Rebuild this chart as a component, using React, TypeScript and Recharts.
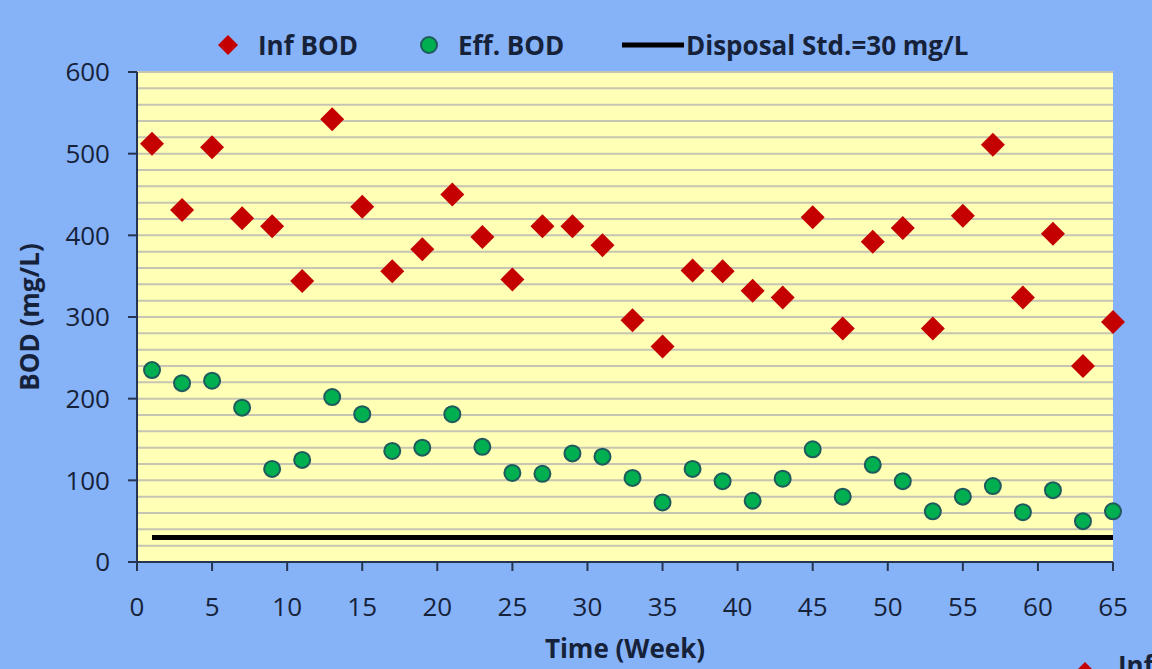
import { ScatterChart, Scatter, XAxis, YAxis, CartesianGrid, Label } from 'recharts';

// weeks sampled (odd weeks 1..65)
const weeks = [1, 3, 5, 7, 9, 11, 13, 15, 17, 19, 21, 23, 25, 27, 29, 31, 33, 35, 37, 39, 41, 43, 45, 47, 49, 51, 53, 55, 57, 59, 61, 63, 65];
const infBod = [512, 431, 508, 421, 411, 344, 542, 435, 356, 383, 450, 398, 346, 411, 411, 388, 296, 264, 357, 356, 332, 324, 422, 286, 392, 409, 286, 424, 511, 324, 402, 240, 294];
const effBod = [235, 219, 222, 189, 114, 125, 202, 181, 136, 140, 181, 141, 109, 108, 133, 129, 103, 73, 114, 99, 75, 102, 138, 80, 119, 99, 62, 80, 93, 61, 88, 50, 62];
const stdWeeks = [1, 65];
const stdValue = 30;

const xTicks = [0, 5, 10, 15, 20, 25, 30, 35, 40, 45, 50, 55, 60, 65];
const yTicks = [0, 100, 200, 300, 400, 500, 600];
const gridValues = Array.from({ length: 31 }, (_, i) => i * 20);

const infData = weeks.map((w, i) => ({ x: w, y: infBod[i] }));
const effData = weeks.map((w, i) => ({ x: w, y: effBod[i] }));
const stdData = stdWeeks.map((w) => ({ x: w, y: stdValue }));

const FONT = '"Open Sans", sans-serif';
const INK = '#16223a';
const AXIS = '#26354f';
const RED = '#c40000';
const GREEN = '#00b050';

const Diamond = (props: any) => {
  const { cx, cy } = props;
  const r = 12;
  return <polygon points={`${cx},${cy - r} ${cx + r},${cy} ${cx},${cy + r} ${cx - r},${cy}`} fill={RED} />;
};

const Dot = (props: any) => {
  const { cx, cy } = props;
  return <circle cx={cx} cy={cy} r={8} fill={GREEN} stroke="#1f5a5c" strokeWidth={2} />;
};

const NoMark = () => <g />;

const legendText = { fontFamily: FONT, fontWeight: 700, fontSize: 26, color: INK, lineHeight: '30px' };

const App = () => {
  return (
    <div style={{ position: 'fixed', left: 0, top: 0, width: 1152, height: 669, background: '#86b2f8', overflow: 'hidden' }}>
      <ScatterChart width={1152} height={669} margin={{ top: 72, right: 39, bottom: 47, left: 0 }}>
        <CartesianGrid
          vertical={false}
          horizontalValues={gridValues}
          fill="#ffffb5"
          fillOpacity={1}
          stroke="#c6c5b4"
          strokeWidth={2}
        />
        <XAxis
          type="number"
          dataKey="x"
          domain={[0, 65]}
          ticks={xTicks}
          interval={0}
          height={60}
          tickSize={9}
          tickMargin={27}
          axisLine={{ stroke: AXIS, strokeWidth: 2 }}
          tickLine={{ stroke: AXIS, strokeWidth: 2 }}
          tick={{ fill: INK, fontSize: 26, fontFamily: FONT }}
        >
          <Label value="Time (Week)" position="bottom" offset={18} style={{ fill: INK, fontSize: 26, fontWeight: 700, fontFamily: FONT }} />
        </XAxis>
        <XAxis xAxisId="top" orientation="top" type="number" domain={[0, 65]} height={0} tick={false} tickLine={false} axisLine={{ stroke: AXIS, strokeWidth: 2 }} />
        <YAxis
          type="number"
          dataKey="y"
          domain={[0, 600]}
          ticks={yTicks}
          interval={0}
          width={137}
          tickSize={9}
          tickMargin={18}
          axisLine={{ stroke: AXIS, strokeWidth: 2 }}
          tickLine={{ stroke: AXIS, strokeWidth: 2 }}
          tick={{ fill: INK, fontSize: 26, fontFamily: FONT }}
        >
          <Label value="BOD (mg/L)" angle={-90} position="insideLeft" offset={30} style={{ fill: INK, fontSize: 26, fontWeight: 700, fontFamily: FONT, textAnchor: 'middle' }} />
        </YAxis>
        <YAxis yAxisId="right" orientation="right" type="number" domain={[0, 600]} width={0} tick={false} tickLine={false} axisLine={{ stroke: AXIS, strokeWidth: 2 }} />
        <Scatter name="Disposal Std.=30 mg/L" data={stdData} line={{ stroke: '#000', strokeWidth: 5 }} shape={NoMark} isAnimationActive={false} />
        <Scatter name="Eff. BOD" data={effData} shape={Dot} isAnimationActive={false} />
        <Scatter name="Inf BOD" data={infData} shape={Diamond} isAnimationActive={false} />
      </ScatterChart>

      {/* legend row */}
      <div style={{ position: 'absolute', top: 30, left: 216, display: 'flex', alignItems: 'center', ...legendText }}>
        <svg width={24} height={24}><polygon points="12,2 22,12 12,22 2,12" fill={RED} /></svg>
        <span style={{ marginLeft: 18 }}>Inf BOD</span>
      </div>
      <div style={{ position: 'absolute', top: 30, left: 418, display: 'flex', alignItems: 'center', ...legendText }}>
        <svg width={22} height={22}><circle cx={11} cy={11} r={8} fill={GREEN} stroke="#1f5a5c" strokeWidth={2} /></svg>
        <span style={{ marginLeft: 18 }}>Eff. BOD</span>
      </div>
      <div style={{ position: 'absolute', top: 30, left: 622, display: 'flex', alignItems: 'center', ...legendText }}>
        <svg width={62} height={10}><line x1={0} y1={5} x2={62} y2={5} stroke="#000" strokeWidth={5} /></svg>
        <span style={{ marginLeft: 2 }}>Disposal Std.=30 mg/L</span>
      </div>

      {/* legend fragment cut off at the bottom right edge */}
      <svg style={{ position: 'absolute', left: 1075, top: 662 }} width={20} height={20}>
        <polygon points="10,0 20,10 10,20 0,10" fill={RED} />
      </svg>
      <span style={{ position: 'absolute', left: 1118, top: 650, whiteSpace: 'nowrap', ...legendText }}>Inf BOD</span>
    </div>
  );
};

export default App;
